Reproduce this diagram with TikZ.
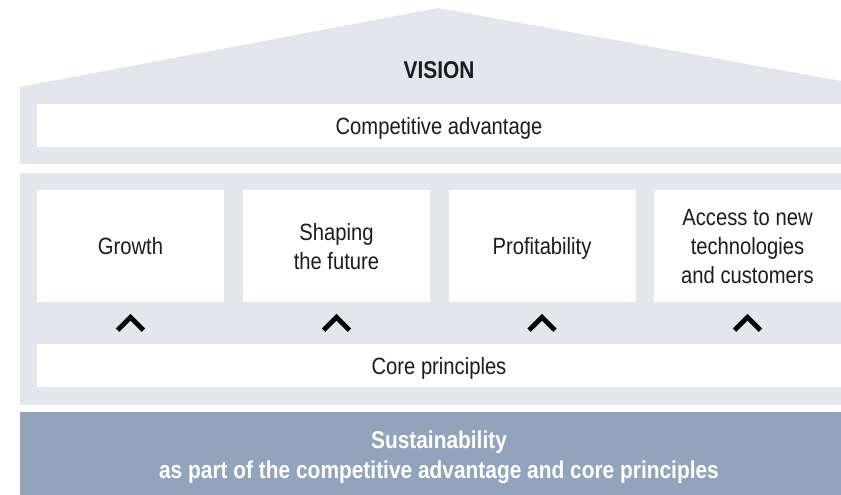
\documentclass[tikz,border=0pt]{standalone}
\usepackage{fontspec}
\setmainfont{Liberation Sans}[FakeStretch=0.86]
\usetikzlibrary{positioning}
\definecolor{housegray}{RGB}{227,230,237}
\definecolor{basegray}{RGB}{146,163,188}
\definecolor{textdark}{RGB}{28,28,28}

\begin{document}
\begin{tikzpicture}[x=1pt,y=-1pt,
  panel/.style={fill=white, inner sep=0pt, align=center, text=textdark, text depth=0pt,
    font=\fontsize{23.5}{29}\selectfont},
  pillar/.style={panel, minimum width=187pt, minimum height=112pt},
  chevron/.style={line width=4.8pt, miter limit=10}]
\useasboundingbox (0,0) rectangle (841,495);

% roof, house body and base
\fill[housegray] (20,87) -- (438,8) -- (858,84) -- (858,164) -- (20,164) -- cycle;
\fill[housegray] (20,173) rectangle (858,405);
\fill[basegray] (20,412) rectangle (858,495);

\node[text=textdark, text depth=0pt, font=\bfseries\fontsize{24.3}{24}\selectfont] (vision) at (439,70.5) {VISION};
\node[panel, minimum width=804pt, minimum height=43pt] (adv) at (439,125.5) {Competitive advantage};

% the four pillars
\node[pillar] (growth) at (130.5,246) {Growth};
\node[pillar] (future) at (336.5,246) {Shaping\\the future};
\node[pillar] (profit) at (542,246) {Profitability};
\node[pillar] (access) at (747.5,246) {Access to new\\technologies\\and customers};

\node[panel, minimum width=804pt, minimum height=43pt] (core) at (439,365.5) {Core principles};

\foreach \p in {growth,future,profit,access}
  \draw[chevron] ([xshift=-13pt,yshift=-28pt]\p.south) -- ([yshift=-15pt]\p.south)
    -- ([xshift=13pt,yshift=-28pt]\p.south);

\node[text=white, align=center, text depth=0pt, font=\bfseries\fontsize{24.3}{30}\selectfont] (sust) at (439,455)
  {Sustainability\\as part of the competitive advantage and core principles};
\end{tikzpicture}
\end{document}
